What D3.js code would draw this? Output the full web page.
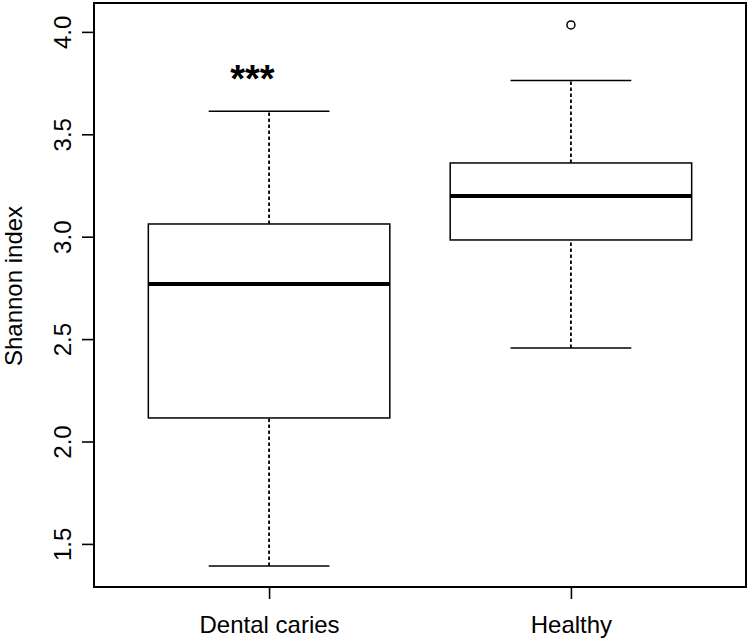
<!DOCTYPE html>
<html>
<head>
<meta charset="utf-8">
<script src="https://cdn.jsdelivr.net/npm/d3@7"></script>
<style>
  body { margin: 0; background: #fff; }
  svg text { font-family: "Liberation Sans", Arial, sans-serif; fill: #000; }
</style>
</head>
<body>
<svg width="750" height="638"></svg>
<script>
// groups and their box statistics (Shannon index)
const groups = ["Dental caries", "Healthy"]
const whiskerLow = [1.392, 2.457]
const q1 = [2.115, 2.984]
const median = [2.769, 3.199]
const q3 = [3.062, 3.360]
const whiskerHigh = [3.612, 3.762]
const outliers = [[], [4.034]]
const yTicks = [1.5, 2.0, 2.5, 3.0, 3.5, 4.0]
const signif = [{group: 0.945, value: 3.79, label: "***"}]

const svg = d3.select("svg")
const plotLeft = 94, plotRight = 746, plotTop = 3, plotBottom = 587

const x = d3.scaleLinear()
    .domain([0.42, 2.58])
    .range([plotLeft, plotRight])

const y = d3.scaleLinear()
    .domain([1.2896, 4.141])
    .range([plotBottom, plotTop])

const data = groups.map((g, i) => ({
    name: g, pos: i + 1,
    lo: whiskerLow[i], q1: q1[i], med: median[i], q3: q3[i], hi: whiskerHigh[i],
    out: outliers[i]
}))

// axes
const yAxis = svg.append("g")
    .attr("transform", "translate(" + plotLeft + ",0)")
    .call(d3.axisLeft(y).tickValues(yTicks).tickFormat(d3.format(".1f")).tickSize(12).tickSizeOuter(0))
yAxis.select(".domain").remove()
yAxis.selectAll("line").attr("stroke", "#000").attr("stroke-width", 1.6)
yAxis.selectAll("text")
    .attr("font-size", 24)
    .attr("x", 0).attr("y", 0)
    .attr("dy", null)
    .attr("text-anchor", "middle")
    .attr("transform", "translate(-23,0) rotate(-90)")

const xAxis = svg.append("g")
    .attr("transform", "translate(0," + plotBottom + ")")
    .call(d3.axisBottom(x).tickValues([1, 2]).tickFormat((d) => groups[d - 1]).tickSize(12).tickSizeOuter(0))
xAxis.select(".domain").remove()
xAxis.selectAll("line").attr("stroke", "#000").attr("stroke-width", 1.6)
xAxis.selectAll("text")
    .attr("font-size", 24)
    .attr("y", 0)
    .attr("dy", 45.5)

svg.append("text")
    .attr("transform", "translate(22,286) rotate(-90)")
    .attr("text-anchor", "middle")
    .attr("font-size", 24)
    .text("Shannon index")

// boxes
const boxes = svg.selectAll("g.box")
    .data(data)
    .enter()
    .append("g")
    .attr("class", "box")

boxes.append("line")
    .attr("x1", (d) => x(d.pos)).attr("x2", (d) => x(d.pos))
    .attr("y1", (d) => y(d.lo)).attr("y2", (d) => y(d.q1))
    .attr("stroke", "#000").attr("stroke-width", 1.8).attr("stroke-dasharray", "3.5,2.5")

boxes.append("line")
    .attr("x1", (d) => x(d.pos)).attr("x2", (d) => x(d.pos))
    .attr("y1", (d) => y(d.q3)).attr("y2", (d) => y(d.hi))
    .attr("stroke", "#000").attr("stroke-width", 1.8).attr("stroke-dasharray", "3.5,2.5")

boxes.append("line")
    .attr("x1", (d) => x(d.pos - 0.2)).attr("x2", (d) => x(d.pos + 0.2))
    .attr("y1", (d) => y(d.lo)).attr("y2", (d) => y(d.lo))
    .attr("stroke", "#000").attr("stroke-width", 1.5)

boxes.append("line")
    .attr("x1", (d) => x(d.pos - 0.2)).attr("x2", (d) => x(d.pos + 0.2))
    .attr("y1", (d) => y(d.hi)).attr("y2", (d) => y(d.hi))
    .attr("stroke", "#000").attr("stroke-width", 1.5)

boxes.append("rect")
    .attr("x", (d) => x(d.pos - 0.4))
    .attr("width", (d) => x(d.pos + 0.4) - x(d.pos - 0.4))
    .attr("y", (d) => y(d.q3))
    .attr("height", (d) => y(d.q1) - y(d.q3))
    .attr("fill", "#fff").attr("stroke", "#000").attr("stroke-width", 1.5)

boxes.append("line")
    .attr("x1", (d) => x(d.pos - 0.4)).attr("x2", (d) => x(d.pos + 0.4))
    .attr("y1", (d) => y(d.med)).attr("y2", (d) => y(d.med))
    .attr("stroke", "#000").attr("stroke-width", 4)

boxes.selectAll("circle")
    .data((d) => d.out.map((v) => ({pos: d.pos, v: v})))
    .enter()
    .append("circle")
    .attr("cx", (d) => x(d.pos))
    .attr("cy", (d) => y(d.v))
    .attr("r", 4)
    .attr("fill", "none").attr("stroke", "#000").attr("stroke-width", 1.5)

// significance mark
svg.selectAll("text.sig")
    .data(signif)
    .enter()
    .append("text")
    .attr("class", "sig")
    .attr("x", (d) => x(d.group))
    .attr("y", (d) => y(d.value))
    .attr("dy", 17)
    .attr("text-anchor", "middle")
    .attr("font-size", 38)
    .attr("font-weight", "bold")
    .text((d) => d.label)

// frame
svg.append("rect")
    .attr("x", plotLeft).attr("y", plotTop)
    .attr("width", plotRight - plotLeft).attr("height", plotBottom - plotTop)
    .attr("fill", "none").attr("stroke", "#000").attr("stroke-width", 2)
</script>
</body>
</html>
